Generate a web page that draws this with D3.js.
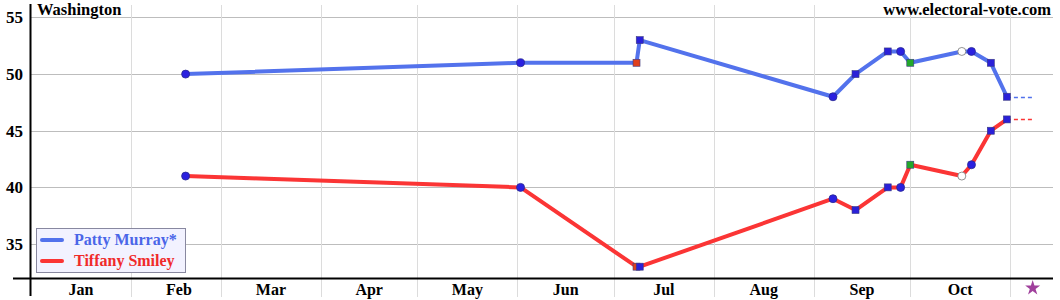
<!DOCTYPE html>
<html>
<head>
<meta charset="utf-8">
<script src="https://cdn.jsdelivr.net/npm/d3@7"></script>
<style>
  body { margin: 0; background: #fff; }
</style>
</head>
<body>
<div id="chart"></div>
<script>
// poll dates (2022)
var pollDates = ["2022-02-18", "2022-06-02", "2022-07-08", "2022-07-09", "2022-09-07",
                 "2022-09-14", "2022-09-24", "2022-09-28", "2022-10-01", "2022-10-17",
                 "2022-10-20", "2022-10-26", "2022-10-31"];
var murray = [50, 51, 51, 53, 48, 50, 52, 52, 51, 52, 52, 51, 48];
var smiley = [41, 40, 33, 33, 39, 38, 40, 40, 42, 41, 42, 45, 46];
// marker kind per poll
var markerKind = ["circle", "circle", "red", "square", "circle", "square", "square",
                  "circle", "green", "open", "circle", "square", "square"];
var yTicks = [35, 40, 45, 50, 55];
var monthLabels = ["Jan", "Feb", "Mar", "Apr", "May", "Jun", "Jul", "Aug", "Sep", "Oct"];
var electionDay = "2022-11-08";
var seriesNames = ["Patty Murray*", "Tiffany Smiley"];
var seriesColors = ["#5272ec", "#fb3434"];
var legendColors = ["#4a66e8", "#f02a2a"];

var parse = d3.timeParse("%Y-%m-%d");
var W = 1060, H = 300;
var FONT = "'Liberation Serif', 'Times New Roman', serif";

var x = d3.scaleTime()
    .domain([new Date(2022, 0, 1), new Date(2022, 10, 14)])
    .range([31, 1052]);
var y = d3.scaleLinear()
    .domain([32, 56.1])
    .range([278, 5]);

var svg = d3.select("#chart").append("svg")
    .attr("width", W)
    .attr("height", H)
    .attr("font-family", FONT)
    .attr("font-weight", "bold");

var defs = svg.append("defs");
defs.append("filter").attr("id", "soft")
    .append("feGaussianBlur").attr("stdDeviation", 0.55);

// horizontal grid
svg.append("g").selectAll("line")
    .data(yTicks)
    .enter().append("line")
    .attr("x1", 31).attr("x2", 1053)
    .attr("y1", function(d) { return Math.round(y(d)) + 0.5; })
    .attr("y2", function(d) { return Math.round(y(d)) + 0.5; })
    .attr("stroke", "#bdbdbd").attr("stroke-width", 1);

// vertical grid at month starts
var monthStarts = d3.timeMonth.range(new Date(2022, 1, 1), new Date(2022, 10, 2));
svg.append("g").selectAll("line")
    .data(monthStarts)
    .enter().append("line")
    .attr("x1", function(d) { return Math.round(x(d)) + 0.5; })
    .attr("x2", function(d) { return Math.round(x(d)) + 0.5; })
    .attr("y1", 5).attr("y2", 297)
    .attr("stroke", "#dcdcdc").attr("stroke-width", 1);

// axes lines
svg.append("line")
    .attr("x1", 30.5).attr("x2", 30.5).attr("y1", 4).attr("y2", 296)
    .attr("stroke", "#000").attr("stroke-width", 2);
svg.append("line")
    .attr("x1", 13).attr("x2", 1053).attr("y1", 278.5).attr("y2", 278.5)
    .attr("stroke", "#000").attr("stroke-width", 2);

// y tick labels
svg.append("g").selectAll("text")
    .data(yTicks)
    .enter().append("text")
    .attr("x", 23)
    .attr("y", function(d) { return y(d) + 6; })
    .attr("text-anchor", "end")
    .style("font-size", "17px")
    .text(function(d) { return d; });

// month labels at mid month
svg.append("g").selectAll("text")
    .data(monthLabels)
    .enter().append("text")
    .attr("x", function(d, i) {
        var a = new Date(2022, i, 1), b = new Date(2022, i + 1, 1);
        return x(new Date((a.getTime() + b.getTime()) / 2)) + (i === 1 ? 3 : 0);
    })
    .attr("y", 295)
    .attr("text-anchor", "middle")
    .style("font-size", "16px")
    .text(function(d) { return d; });

// election day star
var star = d3.symbol().type(d3.symbolStar).size(70);
svg.append("path")
    .attr("d", star())
    .attr("transform", "translate(" + x(parse(electionDay)) + ",288)")
    .attr("fill", "#a0409c");

// titles
svg.append("text")
    .attr("x", 37).attr("y", 15)
    .style("font-size", "16.5px")
    .text("Washington");
svg.append("text")
    .attr("x", 1051).attr("y", 15)
    .attr("text-anchor", "end")
    .style("font-size", "16.5px")
    .text("www.electoral-vote.com");

var series = [murray, smiley];
var line = d3.line()
    .x(function(d) { return x(d.date); })
    .y(function(d) { return y(d.v); });

series.forEach(function(vals, s) {
    var pts = vals.map(function(v, i) { return { date: parse(pollDates[i]), v: v }; });
    svg.append("path")
        .datum(pts)
        .attr("d", line)
        .attr("fill", "none")
        .attr("stroke", seriesColors[s])
        .attr("stroke-width", 4)
        .attr("stroke-linejoin", "round")
        .attr("filter", "url(#soft)");
    var last = pts[pts.length - 1];
    svg.append("line")
        .attr("x1", x(last.date)).attr("x2", x(parse(electionDay)))
        .attr("y1", Math.round(y(last.v)) + 0.5).attr("y2", Math.round(y(last.v)) + 0.5)
        .attr("stroke", seriesColors[s])
        .attr("stroke-width", 1.5)
        .attr("stroke-dasharray", "4,3");
});

// markers
series.forEach(function(vals) {
    var g = svg.append("g");
    vals.forEach(function(v, i) {
        var cx = x(parse(pollDates[i])), cy = y(v), k = markerKind[i];
        if (k === "circle" || k === "open") {
            g.append("circle")
                .attr("cx", cx).attr("cy", cy).attr("r", 4)
                .attr("fill", k === "open" ? "#fff" : "#2a20e0")
                .attr("stroke", k === "open" ? "#777" : "#2a2a90")
                .attr("stroke-width", 0.8);
        } else {
            var fill = k === "red" ? "#e0401c" : (k === "green" ? "#22a82a" : "#2a20d8");
            g.append("rect")
                .attr("x", cx - 3.5).attr("y", cy - 3.5)
                .attr("width", 7).attr("height", 7)
                .attr("fill", fill)
                .attr("stroke", "#3a3a80")
                .attr("stroke-width", 0.6);
        }
    });
});

// legend
var legend = svg.append("g");
legend.append("rect")
    .attr("x", 36.5).attr("y", 228.5)
    .attr("width", 149).attr("height", 44)
    .attr("fill", "#f2f2ff")
    .attr("stroke", "#8888a0");
seriesNames.forEach(function(name, i) {
    var ly = 240 + i * 21;
    legend.append("line")
        .attr("x1", 42).attr("x2", 62)
        .attr("y1", ly).attr("y2", ly)
        .attr("stroke", seriesColors[i])
        .attr("stroke-width", 4)
        .attr("stroke-linecap", "round");
    legend.append("text")
        .attr("x", 74).attr("y", ly + 5)
        .attr("fill", legendColors[i])
        .style("font-size", "16px")
        .text(name);
});
</script>
</body>
</html>
